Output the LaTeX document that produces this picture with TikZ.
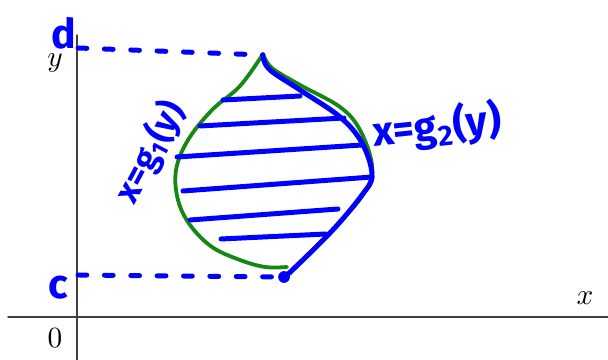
\documentclass[tikz,border=0pt]{standalone}
\usepackage{fontspec}
\newfontfamily\handfont{Fira Sans}
\definecolor{penblue}{RGB}{0,0,255}
\definecolor{pengreen}{RGB}{20,135,20}
\begin{document}
\begin{tikzpicture}[x=0.012cm,y=-0.012cm,line cap=round,line join=round,
  axis/.style={black!75,line width=0.5pt},
  pen/.style={penblue,line width=1.7pt},
  guide/.style={pen,dash pattern=on 3pt off 6pt},
  hand/.style={text=penblue,inner sep=0pt,font=\handfont\bfseries\fontsize{14}{16}\selectfont}]
  \useasboundingbox (0,0) rectangle (608,360);
  % axes
  \draw[axis] (8,317) -- (608,317);
  \draw[axis] (77,35) -- (77,360);
  \node (ylab) at (55,63) {$y$};
  \node (olab) at (55,338) {$0$};
  \node (xlab) at (585,298) {$x$};
  % region bounded by the two curves
  \coordinate (tip) at (263,55);
  \coordinate (foot) at (284,277);
  \coordinate (dax) at (78,48);
  \coordinate (cax) at (78,275);
  \draw[pengreen,line width=1.3pt] plot[smooth,tension=0.6] coordinates
    {(263,54) (240,86) (212,110) (188,140) (176,170) (178,200) (190,225) (212,247) (240,260) (265,267) (287,267)};
  \draw[pengreen,line width=1.3pt] plot[smooth,tension=0.6] coordinates
    {(263,54) (272,68) (300,85) (340,107) (360,130) (372,165) (366,190) (340,222) (290,273)};
  \draw[pen] plot[smooth,tension=0.6] coordinates
    {(263,57) (270,70) (300,90) (340,117) (362,143) (372,175) (362,195) (330,233) (285,277)};
  \fill[penblue] (foot) circle (2pt);
  \foreach \ax/\ay/\bx/\by in {223/100/300/96, 200/126/344/118, 177/157/362/145,
    183/191/372/177, 190/220/338/209, 221/239/326/234}
    \draw[pen] (\ax,\ay) -- (\bx,\by);
  % limits c and d
  \draw[guide] (dax) -- (tip);
  \draw[guide] (cax) -- (foot);
  \node[hand] (dlab) at (64,33) {d};
  \node[hand] (clab) at (58,288) {c};
  \node[hand,font=\handfont\bfseries\fontsize{12}{14}\selectfont,rotate=62] (g1lab) at (150,152) {x=g\textsubscript{1}(y)};
  \node[hand,rotate=6] (g2lab) at (437,127) {x=g\textsubscript{2}(y)};
\end{tikzpicture}
\end{document}
